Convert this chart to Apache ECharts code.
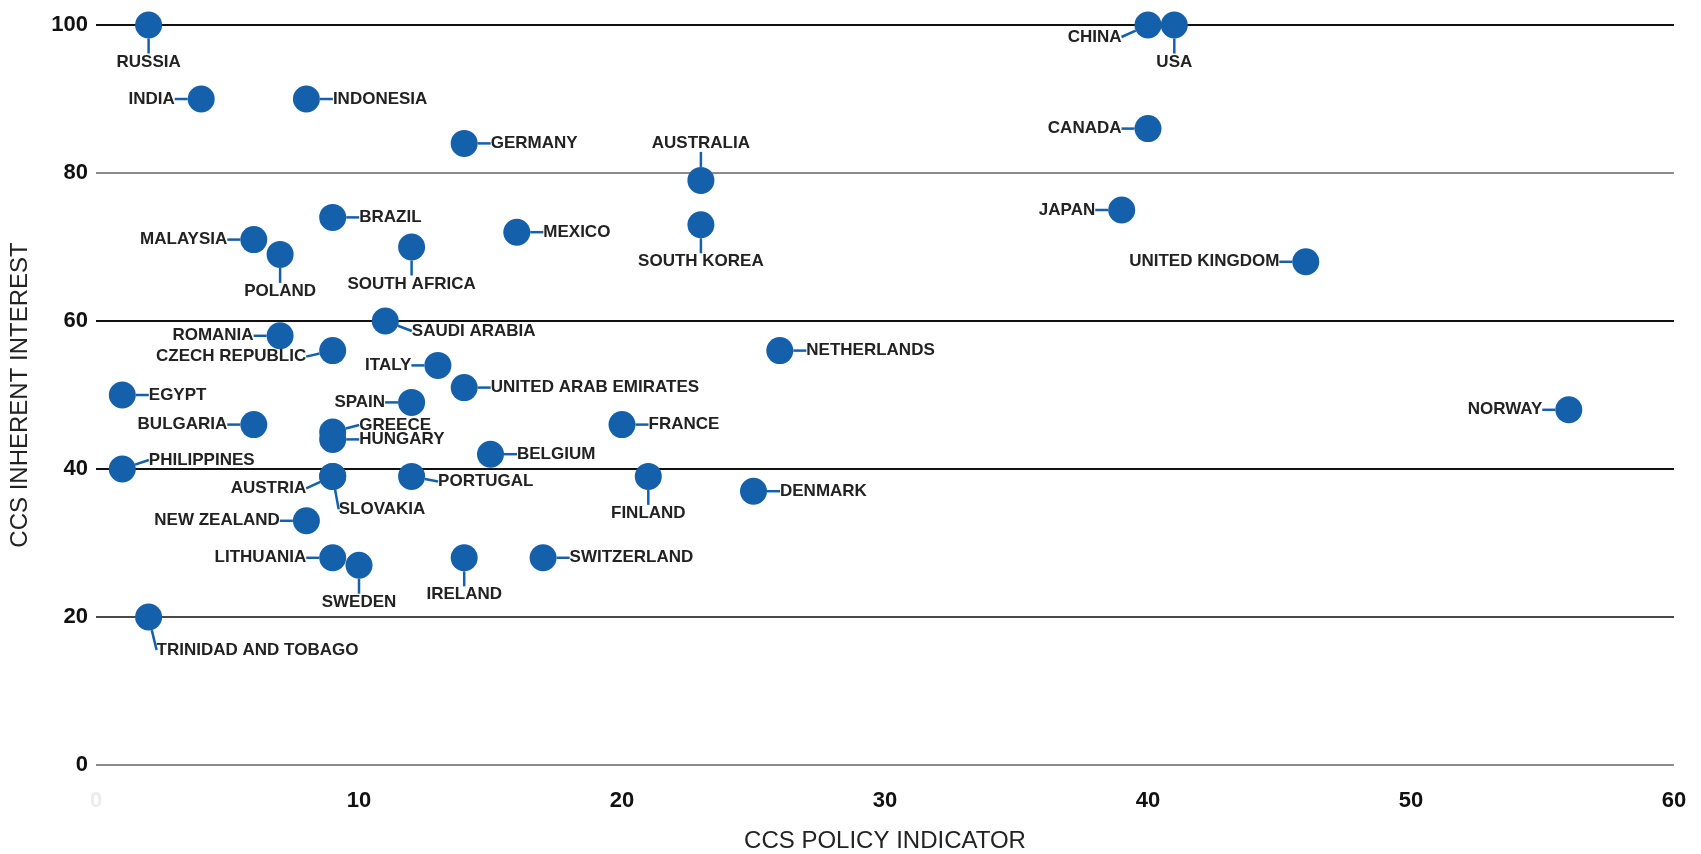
<!DOCTYPE html>
<html>
<head>
<meta charset="utf-8">
<title>CCS policy indicator vs inherent interest</title>
<script src="https://cdn.jsdelivr.net/npm/echarts@6.0.0/dist/echarts.min.js"></script>
<style>
  html, body { margin: 0; padding: 0; background: #fff; }
  #chart { width: 1701px; height: 854px; }
</style>
</head>
<body>
<div id="chart"></div>
<script>
// one entry per country, same order in every array
const countries = [
  'RUSSIA', 'INDIA', 'INDONESIA', 'GERMANY', 'AUSTRALIA', 'CHINA', 'USA', 'CANADA',
  'JAPAN', 'UNITED KINGDOM', 'BRAZIL', 'MALAYSIA', 'POLAND', 'SOUTH AFRICA', 'MEXICO',
  'SOUTH KOREA', 'SAUDI ARABIA', 'ROMANIA', 'CZECH REPUBLIC', 'ITALY', 'NETHERLANDS',
  'UNITED ARAB EMIRATES', 'EGYPT', 'SPAIN', 'BULGARIA', 'GREECE', 'HUNGARY', 'FRANCE',
  'NORWAY', 'BELGIUM', 'PHILIPPINES', 'AUSTRIA', 'SLOVAKIA', 'PORTUGAL', 'FINLAND',
  'DENMARK', 'NEW ZEALAND', 'LITHUANIA', 'SWEDEN', 'IRELAND', 'SWITZERLAND',
  'TRINIDAD AND TOBAGO'
];
const policyScore = [
  2, 4, 8, 14, 23, 40, 41, 40,
  39, 46, 9, 6, 7, 12, 16,
  23, 11, 7, 9, 13, 26,
  14, 1, 12, 6, 9, 9, 20,
  56, 15, 1, 9, 9, 12, 21,
  25, 8, 9, 10, 14, 17,
  2
];
const interestScore = [
  100, 90, 90, 84, 79, 100, 100, 86,
  75, 68, 74, 71, 69, 70, 72,
  73, 60, 58, 56, 54, 56,
  51, 50, 49, 46, 45, 44, 46,
  48, 42, 40, 39, 39, 39, 39,
  37, 33, 28, 27, 28, 28,
  20
];
const xTicks = [0, 10, 20, 30, 40, 50, 60];
const yTicks = [0, 20, 40, 60, 80, 100];

// which side of the dot each name sits on
const labelSide = [
  'bottom', 'left', 'right', 'right', 'top', 'left', 'bottom', 'left',
  'left', 'left', 'right', 'left', 'bottom', 'bottom', 'right',
  'bottom', 'right', 'left', 'left', 'left', 'right',
  'right', 'right', 'left', 'left', 'right', 'right', 'right',
  'left', 'right', 'right', 'left', 'bottom', 'right', 'bottom',
  'right', 'left', 'left', 'bottom', 'bottom', 'right',
  'bottom'
];
// extra nudges [dx, dy, startAtDot]
const labelNudge = {
  'CHINA': [0, 12],
  'SAUDI ARABIA': [0, 10],
  'CZECH REPUBLIC': [0, 6],
  'GREECE': [0, -7],
  'PHILIPPINES': [0, -9],
  'AUSTRIA': [0, 12],
  'PORTUGAL': [0, 5],
  'SLOVAKIA': [6, -4, true],
  'TRINIDAD AND TOBAGO': [8, -4, true]
};

const blue = '#1560ab';
const gridColors = ['#8c8c8c', '#4a4a4a', '#111111', '#111111', '#8c8c8c', '#111111'];

const points = countries.map((name, i) => ({
  name: name,
  value: [policyScore[i], interestScore[i]],
  label: { position: labelSide[i] }
}));

const chart = echarts.init(document.getElementById('chart'));

chart.setOption({
  animation: false,
  grid: {
    left: 96,
    right: 27,
    top: 25,
    bottom: 89,
    containLabel: false,
    outerBoundsMode: 'none'
  },
  xAxis: {
    type: 'value',
    min: xTicks[0],
    max: xTicks[xTicks.length - 1],
    interval: 10,
    name: 'CCS POLICY INDICATOR',
    nameLocation: 'middle',
    nameGap: 64,
    nameTextStyle: { fontSize: 24, color: '#222', fontFamily: 'Liberation Sans, Arial' },
    axisLine: { show: false },
    axisTick: { show: false },
    splitLine: { show: false },
    axisLabel: {
      margin: 25,
      fontSize: 22,
      fontWeight: 'bold',
      fontFamily: 'Liberation Sans, Arial',
      color: function (val) {
        return Number(val) === 0 ? '#ececec' : '#111';
      }
    }
  },
  yAxis: {
    type: 'value',
    min: yTicks[0],
    max: yTicks[yTicks.length - 1],
    interval: 20,
    name: 'CCS INHERENT INTEREST',
    nameLocation: 'middle',
    nameRotate: 90,
    nameGap: 64,
    nameTextStyle: { fontSize: 24, color: '#222', fontFamily: 'Liberation Sans, Arial' },
    axisLine: { show: false },
    axisTick: { show: false },
    axisLabel: {
      margin: 8,
      fontSize: 22,
      fontWeight: 'bold',
      fontFamily: 'Liberation Sans, Arial',
      color: '#111'
    },
    splitLine: {
      show: true,
      lineStyle: { color: gridColors, width: 2 }
    }
  },
  series: [
    {
      type: 'scatter',
      clip: false,
      symbolSize: 27,
      itemStyle: { color: blue, opacity: 1 },
      data: points,
      label: {
        show: true,
        formatter: '{b}',
        distance: 3,
        fontSize: 17,
        fontWeight: 'bold',
        fontFamily: 'Liberation Sans, Arial',
        color: '#222'
      },
      labelLine: {
        show: true,
        length2: 0,
        lineStyle: { color: blue, width: 2.5 }
      },
      labelLayout: function (params) {
        const i = params.dataIndex;
        const side = labelSide[i];
        const push = 10;
        const pushV = 12;
        let dx = side === 'left' ? -push : side === 'right' ? push : 0;
        let dy = side === 'top' ? -pushV : side === 'bottom' ? pushV : 0;
        const n = labelNudge[countries[i]];
        if (n) {
          dx += n[0];
          dy += n[1];
          if (n[2]) dx += params.labelRect.width / 2;
        }
        return { dx: dx, dy: dy };
      }
    }
  ]
});

window.onresize = function () {
  chart.resize();
};
</script>
</body>
</html>
